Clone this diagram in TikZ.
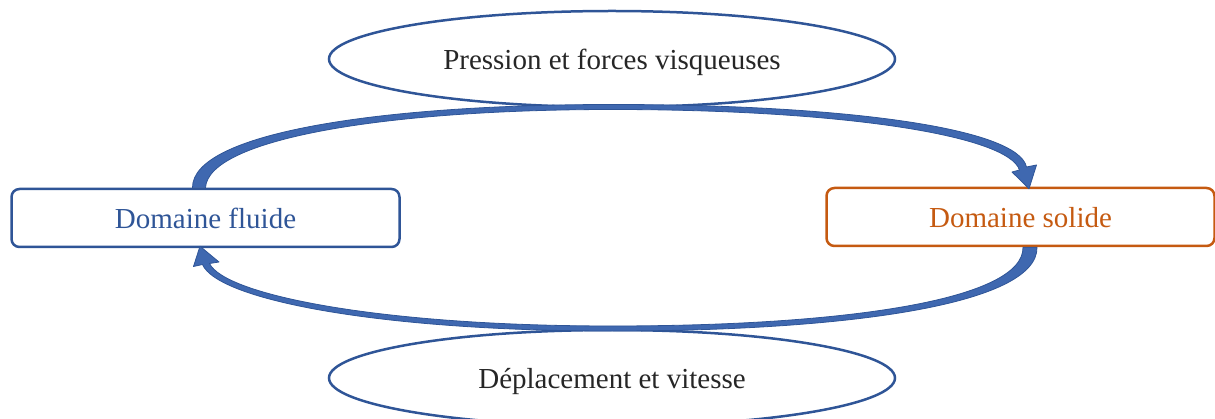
\documentclass[tikz,border=0pt]{standalone}
\usepackage{fontspec}
\setmainfont{Liberation Serif}
\usetikzlibrary{shapes,arrows.meta,positioning}
\definecolor{bleu}{HTML}{2F5597}
\definecolor{rouille}{HTML}{C55A11}
\definecolor{fleche}{HTML}{3F68B0}
\definecolor{texte}{HTML}{262626}

\begin{document}
\begin{tikzpicture}[x=1pt,y=-1pt,>=Latex,
  every node/.style={font=\fontsize{29}{33}\selectfont,text height=27.5pt,text depth=6.4pt},
  domaine/.style={draw,rectangle,rounded corners=8pt,line width=2.5pt,minimum width=388pt,minimum height=58pt},
  echange/.style={draw=bleu,ellipse,line width=2.5pt,minimum width=566pt,minimum height=96pt,inner sep=0pt,text=texte},
  flux/.style={fill=fleche,draw=bleu,line width=0.8pt,line join=round}]
\useasboundingbox (0,0) rectangle (1215,419);
\node (pression) [echange] at (612,59) {Pression et forces visqueuses};
\node (deplacement) [echange] at (612,378) {Déplacement et vitesse};
\node (fluide) [domaine,draw=bleu,text=bleu] at (205.5,218) {Domaine fluide};
\node (solide) [domaine,draw=rouille,text=rouille] at (1020.5,217) {Domaine solide};
% fleche courbe du fluide vers le solide
\path[flux] ([xshift=-13pt]fluide.north) .. controls (192,133) and (380,104.5) .. (612,104.5)
  .. controls (845,104.5) and (1018,128) .. (1026.5,167) -- (1036.5,165)
  -- ([xshift=8.5pt,yshift=-2pt]solide.north) -- (1012,172) -- (1019.5,170)
  .. controls (1008,135) and (840,109.5) .. (612,109.5)
  .. controls (380,109.5) and (208,140) .. (fluide.north) -- cycle;
% fleche courbe du solide vers le fluide
\path[flux] ([xshift=16.5pt]solide.south) .. controls (1038,305) and (845,331) .. (612,331)
  .. controls (380,331) and (218,300) .. (202.5,264.5) -- (193.5,266.5)
  -- ([xshift=-5.5pt,yshift=2pt]fluide.south) -- (219,262) -- (209.5,263.5)
  .. controls (225,295) and (380,326) .. (612,326)
  .. controls (845,326) and (1024,300) .. ([xshift=2.5pt]solide.south) -- cycle;
\end{tikzpicture}
\end{document}
